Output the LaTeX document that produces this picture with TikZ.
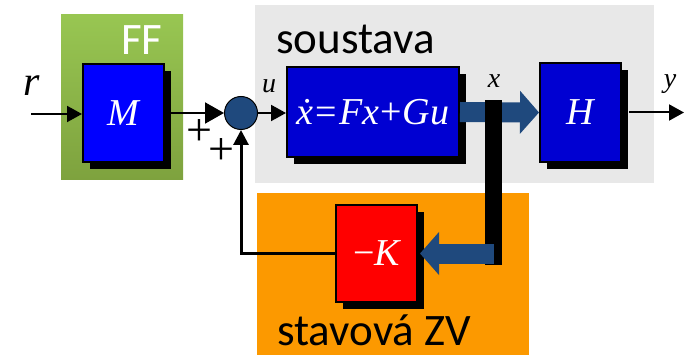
\documentclass[tikz,border=0pt]{standalone}
\usepackage{fontspec}
\setmainfont{Liberation Serif}
\newfontfamily\calib{Carlito}
\usetikzlibrary{arrows.meta,shadows}
\definecolor{grayback}{RGB}{232,232,232}
\definecolor{orangeback}{RGB}{252,153,0}
\definecolor{greentop}{RGB}{152,198,82}
\definecolor{greenbot}{RGB}{126,162,62}
\definecolor{darkblue}{RGB}{31,73,125}
\definecolor{boxblue}{RGB}{0,0,210}
\definecolor{mblue}{RGB}{0,0,255}
\definecolor{kred}{RGB}{255,0,0}
\begin{document}
\begin{tikzpicture}[x=1pt,y=-1pt,
  blk/.style={draw=black, line width=2pt, inner sep=0pt, text=white,
    font=\fontsize{38}{40}\selectfont\itshape,
    general shadow={fill=black, shadow xshift=7pt, shadow yshift=-7pt}},
  conn/.style={line width=2pt, draw=black},
  tipA/.style={-{Triangle[length=15pt,width=16pt]}},
  lbl/.style={font=\fontsize{28}{30}\selectfont\itshape, inner sep=0pt},
  sans/.style={font=\calib\fontsize{45}{50}\selectfont, inner sep=0pt},
  plus/.style={font=\fontsize{46}{48}\selectfont, inner sep=0pt},
  fat/.style={line width=20pt, draw=darkblue, -{Triangle[length=19pt,width=42pt]}}
]
\useasboundingbox (0,0) rectangle (684,355);
% backgrounds
\node[inner sep=0, minimum width=122, minimum height=165, top color=greentop, bottom color=greenbot] (ffbg) at (122,97.5) {};
\node[inner sep=0, minimum width=399, minimum height=178, fill=grayback] (sysbg) at (454.5,94) {};
\node[inner sep=0, minimum width=272, minimum height=162, fill=orangeback] (zvbg) at (393,274) {};
\node[sans, text=white, anchor=base] (fflbl) at (142,55) {FF};
\node[sans, anchor=base west] (soulbl) at (276,54) {soustava};
\node[sans, anchor=base west] (zvlbl) at (277,345) {stavová ZV};
% blocks
\node[blk, fill=mblue, minimum width=81, minimum height=98] (M) at (123.5,113) {M};
\node[blk, fill=boxblue, minimum width=172, minimum height=90] (sys) at (373,112) {\.{x}\kern2pt{\upshape=}\kern2pt Fx\kern1pt{\upshape+}\kern1pt Gu};
\node[blk, fill=boxblue, minimum width=81, minimum height=99] (H) at (580.5,112.5) {H};
\node[blk, fill=kred, minimum width=81, minimum height=97] (K) at (376.5,253.5) {{\upshape\textminus}K};
\node[circle, draw=black, line width=1pt, fill=darkblue, minimum size=33, inner sep=0] (sum) at (241,113) {};
% labels
\node[font=\fontsize{42}{44}\selectfont\itshape, inner sep=0] (rlbl) at (32,86) {r};
\node[lbl] (ulbl) at (269,86) {u};
\node[lbl] (xlbl) at (494,81) {x};
\node[lbl] (ylbl) at (670,84) {y};
\node[plus] (p1) at (199,133) {+};
\node[plus] (p2) at (221,152) {+};
% connectors
\coordinate (rin) at (31,114);
\coordinate (yout) at (684,112.5);
\draw[conn, tipA] (rin) -- (rin -| M.west);
\draw[conn, -{Triangle[length=19pt,width=21pt]}] ([xshift=1pt]M.east |- sum.west) -- (sum.west);
\draw[conn, tipA] (sum.east) -- (sys.west |- sum.east);
\draw[conn, tipA] ([xshift=7pt]H.east) -- (yout);
\draw[line width=3pt, -{Triangle[length=15pt,width=15pt]}] (K.west) -| (sum.south);
% state arrows
\draw[fat] (sys.east) -- (H.west);
\node[fill=black, inner sep=0, minimum width=17, minimum height=165] (bar) at (493.5,182.5) {};
\draw[fat] (bar.center |- K.east) -- ([xshift=2pt]K.east);
\end{tikzpicture}
\end{document}
